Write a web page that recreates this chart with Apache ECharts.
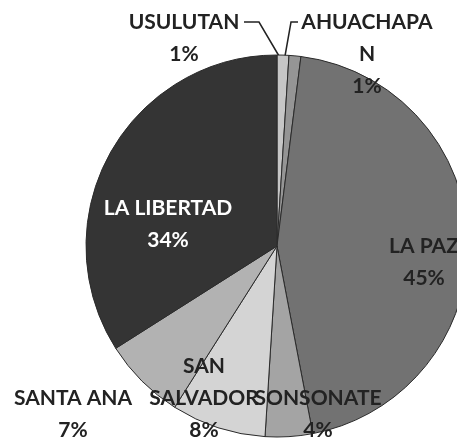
<!DOCTYPE html>
<html>
<head>
<meta charset="utf-8">
<script src="https://cdn.jsdelivr.net/npm/echarts@6/dist/echarts.min.js"></script>
<style>
html, body { margin: 0; padding: 0; background: #fff; }
#pie { width: 457px; height: 439px; }
</style>
</head>
<body>
<div id="pie"></div>
<script>
// departamentos, in the order they sit clockwise from 12 o'clock
var departamentos = ['USULUTAN', 'AHUACHAPAN', 'LA PAZ', 'SONSONATE', 'SAN SALVADOR', 'SANTA ANA', 'LA LIBERTAD'];
var etiquetas = ['USULUTAN', 'AHUACHAPA\nN', 'LA PAZ', 'SONSONATE', 'SAN\nSALVADOR', 'SANTA ANA', 'LA LIBERTAD'];
var porcentajes = [1, 1, 45, 4, 8, 7, 34];

var colores = ['#c6c6c6', '#959595', '#727272', '#a4a4a4', '#d4d4d4', '#b2b2b2', '#343434'];
var colorTexto = ['#222', '#222', '#222', '#222', '#222', '#222', '#ffffff'];
// label centres (px) and leader lines, placed like the excel original
var posEtiqueta = [[184, 38], [367, 54], [424, 262], [318, 414], [204, 398], [73, 414], [168, 224]];
var lineas = [
    [[279, 56], [259, 22], [244, 22]],
    [[285, 56], [291, 22], [298, 22]]
];

var myChart1 = echarts.init(document.getElementById('pie'));

var datos = departamentos.map(function (d, i) {
    var item = {
        name: d,
        value: porcentajes[i],
        itemStyle: { color: colores[i] },
        label: { color: colorTexto[i] }
    };
    if (i < 2) {
        item.labelLine = { show: true };
    }
    return item;
});

option = {
    animation: false,
    series: [
        {
            type: 'pie',
            center: [277, 246],
            radius: 191,
            startAngle: 90,
            clockwise: true,
            avoidLabelOverlap: false,
            data: datos,
            itemStyle: {
                borderColor: '#2a2a2a',
                borderWidth: 1
            },
            label: {
                position: 'outside',
                fontFamily: 'Lato',
                fontWeight: 'bold',
                fontSize: 21,
                lineHeight: 32,
                align: 'center',
                formatter: function (p) {
                    return etiquetas[p.dataIndex] + '\n' + p.value + '%';
                }
            },
            labelLine: {
                show: false,
                lineStyle: { color: '#222', width: 1.5 }
            },
            labelLayout: function (p) {
                var pos = posEtiqueta[p.dataIndex];
                var res = {
                    x: pos[0],
                    y: pos[1],
                    align: 'center',
                    verticalAlign: 'middle'
                };
                if (p.dataIndex < 2) {
                    res.labelLinePoints = lineas[p.dataIndex];
                }
                return res;
            }
        }
    ]
};

myChart1.setOption(option);
</script>
</body>
</html>
